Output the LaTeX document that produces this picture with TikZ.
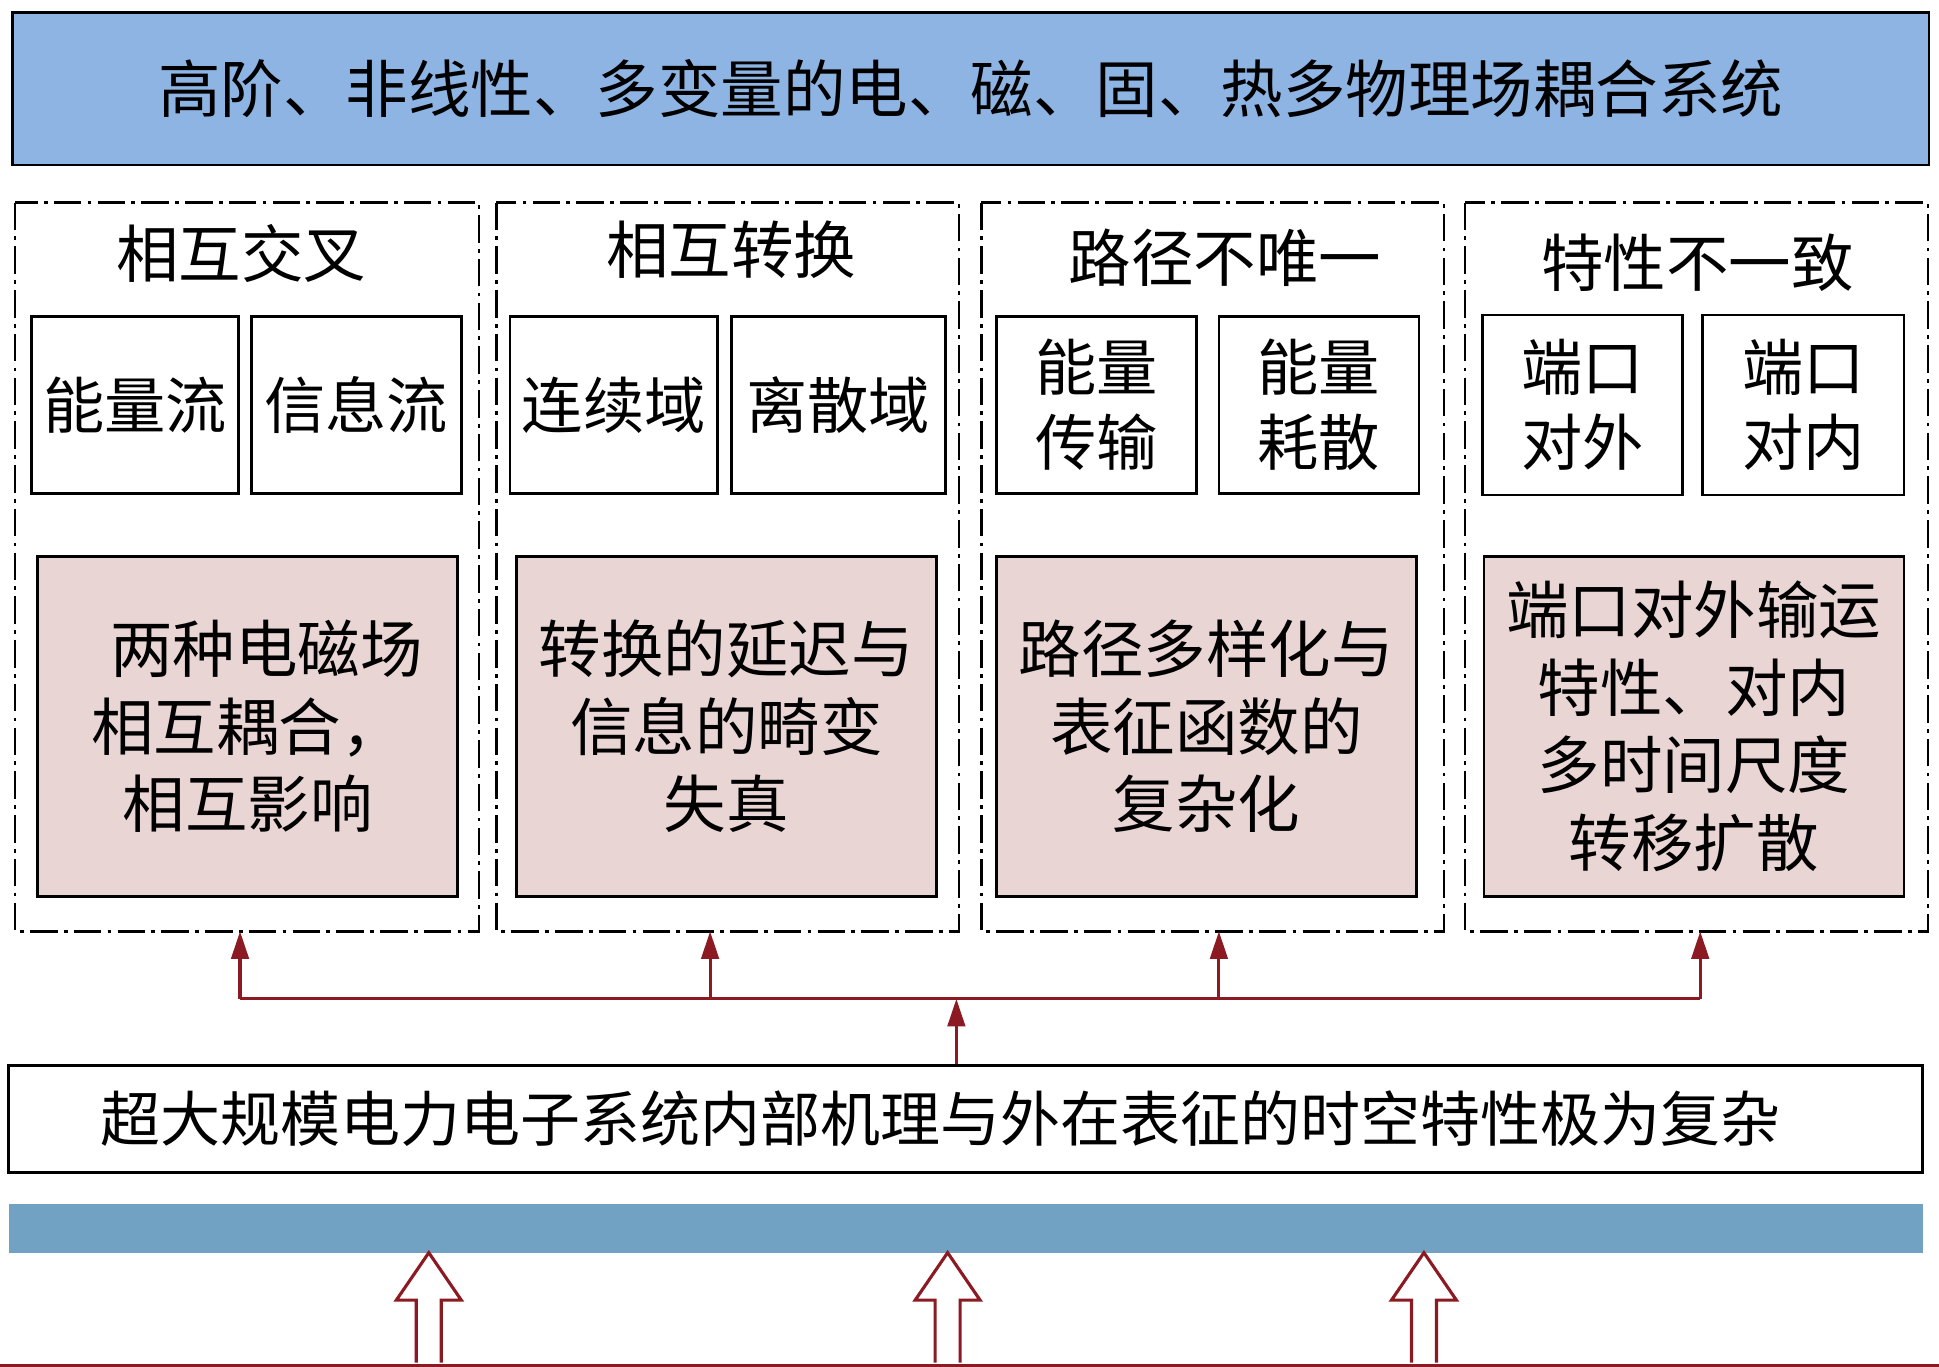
\documentclass[tikz,border=0pt]{standalone}
\usepackage{fontspec}
\setmainfont{Noto Sans CJK SC}
\usetikzlibrary{arrows.meta}
\definecolor{topblue}{HTML}{8DB4E2}
\definecolor{barblue}{HTML}{71A2C3}
\definecolor{pink}{HTML}{EAD5D5}
\definecolor{dred}{HTML}{8B1A22}
\begin{document}
\begin{tikzpicture}[x=1pt,y=-1pt,
 box/.style={draw=black,line width=2.2pt,inner sep=0pt,align=center},
 panel/.style={draw=black,line width=2pt,dash pattern=on 22pt off 5pt on 3pt off 5pt},
 small/.style={box,font=\fontsize{49}{60}\selectfont},
 pinkb/.style={box,fill=pink,font=\fontsize{50}{62}\selectfont},
 ttl/.style={font=\fontsize{50}{54}\selectfont},
 rarr/.style={draw=dred,line width=2.5pt,-{Triangle[width=14pt,length=22pt]}},
 hollow/.style={draw=dred,fill=white,line width=2.5pt}]
\useasboundingbox (0,0) rectangle (1551,1093);
\node[box,fill=topblue,minimum width=1533pt,minimum height=122pt,font=\fontsize{50}{56}\selectfont] (top) at (776.5,71) {高阶、非线性、多变量的电、磁、固、热多物理场耦合系统};
% panels
\foreach \n/\a/\b in {p1/12/383,p2/397/767,p3/785/1155,p4/1172/1542}{
 \draw[panel] (\a,162) rectangle (\b,745);
 \coordinate (\n) at ({(\a+\b)/2},745);}
\node[ttl] (t1) at (193,203) {相互交叉};
\node[ttl] (t2) at (585,200) {相互转换};
\node[ttl] (t3) at (980,206) {路径不唯一};
\node[ttl] (t4) at (1358,210) {特性不一致};
\node[small,minimum width=166pt,minimum height=142pt] (s11) at (108,324) {能量流};
\node[small,minimum width=168pt,minimum height=142pt] (s12) at (285,324) {信息流};
\node[small,minimum width=166pt,minimum height=142pt] (s21) at (491,324) {连续域};
\node[small,minimum width=171pt,minimum height=142pt] (s22) at (670.5,324) {离散域};
\node[small,minimum width=160pt,minimum height=142pt] (s31) at (877,324) {能量\\传输};
\node[small,minimum width=160pt,minimum height=142pt] (s32) at (1055,324) {能量\\耗散};
\node[small,minimum width=160pt,minimum height=144pt] (s41) at (1266,324) {端口\\对外};
\node[small,minimum width=161pt,minimum height=144pt] (s42) at (1442.5,324) {端口\\对内};
\node[pinkb,minimum width=336pt,minimum height=272pt] (b1) at (198,581) {\hspace*{0.6em}两种电磁场\\相互耦合，\\ 相互影响};
\node[pinkb,minimum width=336pt,minimum height=272pt] (b2) at (581,581) {转换的延迟与\\信息的畸变\\失真};
\node[pinkb,minimum width=336pt,minimum height=272pt] (b3) at (965,581) {路径多样化与\\表征函数的\\复杂化};
\node[pinkb,minimum width=336pt,minimum height=272pt] (b4) at (1355,581) {端口对外输运\\特性、对内\\多时间尺度\\转移扩散};
% bottom box
\node[box,minimum width=1531pt,minimum height=86pt,font=\fontsize{48}{54}\selectfont] (bot) at (772.5,895) {\hspace*{-40pt}超大规模电力电子系统内部机理与外在表征的时空特性极为复杂};
\coordinate (j) at (765,799);
\draw[rarr] (bot.north -| j) -- (j);
\draw[draw=dred,line width=2.5pt] (192,799) -- (1360,799);
\foreach \x/\n in {192/p1,568/p2,975/p3,1360/p4}
 \draw[rarr] (\x,799) -- (\x,745);
\fill[barblue] (7,963) rectangle (1538,1002) node[pos=0.5] (bar) {};
\foreach \x in {343,758,1139}
 \draw[hollow] (\x-10,1090) -- (\x-10,1040) -- (\x-26,1040) -- (\x,1002) -- (\x+26,1040) -- (\x+10,1040) -- (\x+10,1090);
\draw[draw=dred,line width=4pt] (0,1093) -- (1551,1093);
\end{tikzpicture}
\end{document}
